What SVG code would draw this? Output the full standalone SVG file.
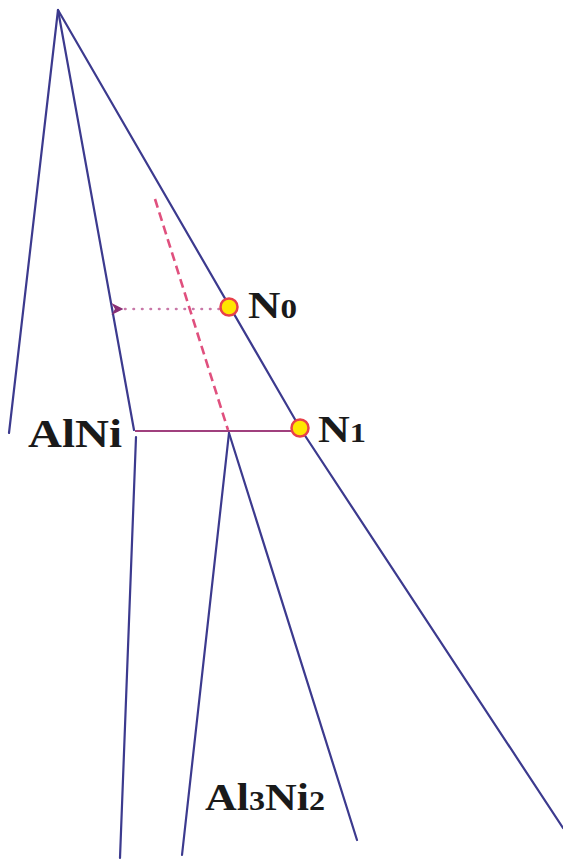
<svg xmlns="http://www.w3.org/2000/svg" width="563" height="861" viewBox="0 0 563 861">
<style>
.ln{fill:none;stroke:#3c3a8e;stroke-width:2.2;stroke-linecap:round}
.lbl{font-family:"Liberation Serif",serif;font-weight:bold;fill:#1a1a1a}
.pt{fill:#ffe600;stroke:#e8404a;stroke-width:2.5}
</style>
<defs>
<marker id="ah" viewBox="0 0 10 10" refX="2" refY="5" markerWidth="12" markerHeight="12" markerUnits="userSpaceOnUse" orient="auto-start-reverse">
<path d="M0,5 L10,0 L7,5 L10,10 Z" fill="#8a2f75"/>
</marker>
</defs>
<g id="connectors">
<path class="ln" d="M58,10 L9,433"/>
<path class="ln" d="M58,10 L134,430"/>
<path class="ln" d="M58,10 L300,428 L563,828"/>
<path class="ln" d="M136,437 L120,858"/>
<path class="ln" d="M229,433 L182,855"/>
<path class="ln" d="M229,433 L357,840"/>
<path d="M135,431 L300,431" fill="none" stroke="#a0407e" stroke-width="2"/>
<path d="M155,199 L228,430" fill="none" stroke="#e0507e" stroke-width="2.6" stroke-dasharray="9,5"/>
<path d="M219,309 L121,309" fill="none" stroke="#c878a8" stroke-width="2.6" stroke-dasharray="0.5,8" stroke-linecap="round" marker-end="url(#ah)"/>
</g>
<g id="N0">
<circle class="pt" cx="229" cy="307" r="8.5"/>
<text class="lbl" x="248" y="318" font-size="38" textLength="49" lengthAdjust="spacingAndGlyphs">N<tspan font-size="28">0</tspan></text>
</g>
<g id="N1">
<circle class="pt" cx="300" cy="428" r="8.5"/>
<text class="lbl" x="318" y="442" font-size="38" textLength="48" lengthAdjust="spacingAndGlyphs">N<tspan font-size="28">1</tspan></text>
</g>
<g id="AlNi">
<text class="lbl" x="28" y="447" font-size="40" textLength="94" lengthAdjust="spacingAndGlyphs">AlNi</text>
</g>
<g id="Al3Ni2">
<text class="lbl" x="205" y="810" font-size="37" textLength="120" lengthAdjust="spacingAndGlyphs">Al<tspan font-size="27">3</tspan>Ni<tspan font-size="27">2</tspan></text>
</g>
</svg>
